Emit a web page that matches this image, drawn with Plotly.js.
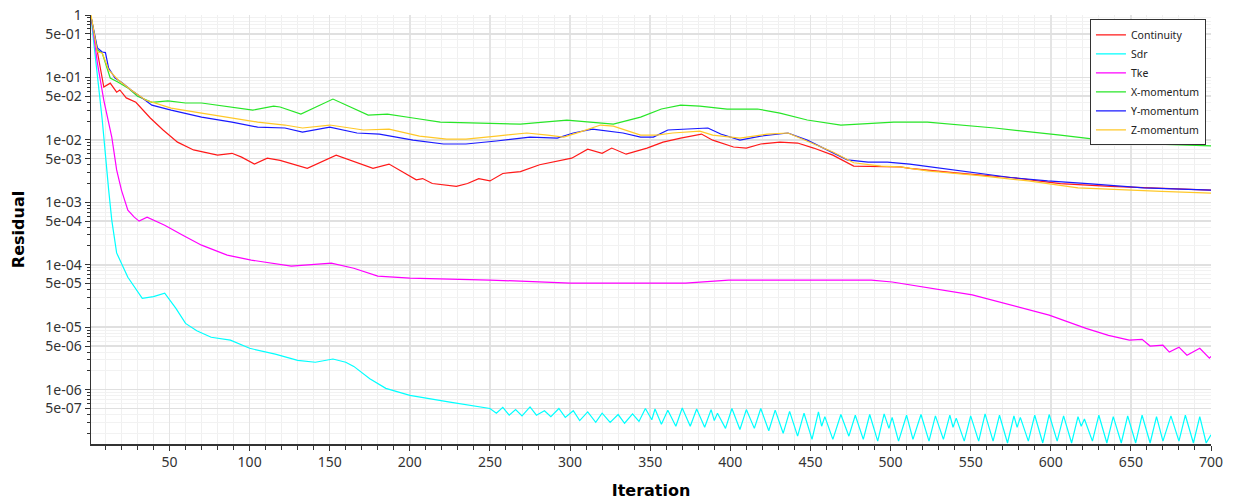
<!DOCTYPE html>
<html>
<head>
<meta charset="utf-8">
<script src="https://cdn.plot.ly/plotly-3.0.1.min.js"></script>
<style>html,body{margin:0;padding:0;background:#fff;}#chart{width:1233px;height:500px;}</style>
</head>
<body>
<div id="chart"></div>
<script>
// ---- data ----
const continuityIter = [1,9,13,17,19,23,29,38,46,55,65,80,89,95,103,111,119,136,154,171,177,187,204,208,214,229,236,243,250,258,269,281,296,301,311,320,326,335,348,358,369,382,389,402,410,419,431,442,452,464,477,486,506,512,544,575,606,637,669,700];
const continuityVal = [0.93,0.070,0.081,0.058,0.063,0.047,0.040,0.0224,0.0144,0.0092,0.0069,0.0057,0.0061,0.0053,0.0041,0.0051,0.0047,0.0035,0.0057,0.0040,0.0035,0.0041,0.0023,0.0024,0.0020,0.0018,0.0020,0.0024,0.0022,0.0029,0.0031,0.0040,0.0048,0.0051,0.0071,0.0061,0.0074,0.0059,0.0074,0.0092,0.0107,0.0124,0.0099,0.0077,0.0074,0.0086,0.0092,0.0089,0.0074,0.0057,0.0038,0.0038,0.0037,0.0035,0.0029,0.0025,0.0020,0.0018,0.0017,0.00157];

const sdrIter = [1,4,8,12,14,17,24,33,40,47,54,60,67,76,88,100,116,130,141,152,160,165,175,185,200,225,
  250,254,258,262,266,270,275,279,284,288,293,297,302,306,311,316,320,325,330,334,339,343,347,351,353,357,361,366,370,375,379,384,388,390,392,397,401,406,410,415,419,424,428,433,437,442,446,451,455,457,459,464,469,474,478,483,487,492,496,499,501,505,510,514,519,524,528,533,537,539,541,546,550,555,559,564,568,573,577,579,581,586,590,595,599,604,608,613,617,619,621,626,630,635,639,644,648,653,657,662,666,670,675,680,684,689,693,697,700];
const sdrVal = [0.93,0.19,0.021,0.0016,5.1e-4,1.55e-4,6.3e-5,2.9e-5,3.1e-5,3.5e-5,2.0e-5,1.15e-5,8.8e-6,6.9e-6,6.2e-6,4.6e-6,3.7e-6,2.95e-6,2.75e-6,3.1e-6,2.75e-6,2.36e-6,1.5e-6,1.05e-6,8.1e-7,6.3e-7,
  5.0e-7,4.2e-7,5.2e-7,3.9e-7,4.8e-7,3.8e-7,5.3e-7,3.9e-7,4.6e-7,3.7e-7,5.0e-7,3.6e-7,4.6e-7,3.2e-7,4.4e-7,3.0e-7,4.2e-7,3.0e-7,4.0e-7,2.9e-7,4.1e-7,3.1e-7,5.0e-7,3.3e-7,4.9e-7,2.8e-7,4.7e-7,2.6e-7,5.1e-7,2.6e-7,4.9e-7,2.5e-7,4.8e-7,3.2e-7,4.2e-7,2.4e-7,5.0e-7,2.3e-7,4.8e-7,2.4e-7,5.0e-7,2.2e-7,4.7e-7,2.0e-7,4.5e-7,1.8e-7,4.2e-7,1.6e-7,4.4e-7,2.6e-7,3.7e-7,1.6e-7,4.0e-7,1.8e-7,3.9e-7,1.6e-7,4.0e-7,1.5e-7,4.1e-7,2.4e-7,3.6e-7,1.5e-7,3.9e-7,1.6e-7,4.0e-7,1.5e-7,3.8e-7,1.6e-7,3.9e-7,2.5e-7,3.5e-7,1.5e-7,3.8e-7,1.5e-7,4.1e-7,1.5e-7,3.9e-7,1.4e-7,3.8e-7,2.5e-7,3.6e-7,1.5e-7,3.9e-7,1.4e-7,4.0e-7,1.5e-7,3.8e-7,1.4e-7,3.7e-7,2.6e-7,3.4e-7,1.5e-7,3.9e-7,1.4e-7,3.7e-7,1.4e-7,3.8e-7,1.4e-7,3.9e-7,1.4e-7,3.7e-7,1.5e-7,3.8e-7,1.5e-7,3.9e-7,1.4e-7,3.7e-7,1.4e-7,1.9e-7];

const tkeIter = [1,2,5,9,14,17,20,24,28,31,36,47,58,70,86,101,126,151,165,180,200,250,300,372,399,488,501,551,599,622,636,649,657,662,670,674,680,685,693,699,700];
const tkeVal = [0.9,0.64,0.17,0.043,0.011,0.0033,0.00157,7.5e-4,5.8e-4,5.0e-4,5.8e-4,4.3e-4,3.0e-4,2.06e-4,1.43e-4,1.19e-4,9.5e-5,1.06e-4,8.8e-5,6.6e-5,6.1e-5,5.7e-5,5.1e-5,5.1e-5,5.7e-5,5.7e-5,5.3e-5,3.3e-5,1.56e-5,9.6e-6,7.4e-6,6.2e-6,6.4e-6,5.0e-6,5.15e-6,4.0e-6,4.8e-6,3.56e-6,4.6e-6,3.2e-6,3.4e-6];

const xMomIter = [1,5,8,13,18,24,30,39,49,60,70,87,102,115,119,132,152,174,186,202,219,244,269,298,306,327,344,357,369,381,398,417,431,448,469,481,502,523,565,606,648,700];
const xMomVal = [0.93,0.275,0.246,0.098,0.084,0.068,0.050,0.040,0.042,0.039,0.039,0.0336,0.030,0.0348,0.0336,0.0259,0.0451,0.025,0.0259,0.0224,0.0193,0.0186,0.0179,0.0208,0.0200,0.0179,0.0232,0.0312,0.0361,0.0348,0.0312,0.0312,0.0269,0.0208,0.0173,0.0179,0.0193,0.0193,0.0155,0.0119,0.0089,0.0080];

const yMomIter = [1,5,8,10,12,16,20,26,33,39,51,70,89,105,122,133,150,167,181,202,221,235,254,275,292,302,314,333,344,352,361,375,386,394,406,419,436,448,461,473,486,498,512,544,575,598,623,658,700];
const yMomVal = [0.93,0.296,0.255,0.25,0.1415,0.098,0.084,0.063,0.047,0.036,0.030,0.0232,0.0193,0.0160,0.0155,0.0133,0.0160,0.0129,0.0124,0.0099,0.0086,0.0086,0.0096,0.0111,0.0107,0.0129,0.0149,0.0129,0.0111,0.0111,0.0144,0.0149,0.0155,0.0124,0.0099,0.0115,0.0129,0.0099,0.0069,0.0048,0.0044,0.0044,0.0041,0.0032,0.0025,0.0022,0.0020,0.0017,0.00157];

const zMomIter = [1,5,8,12,18,26,35,51,70,89,105,122,133,150,171,187,206,223,235,254,273,286,296,306,319,327,344,354,364,381,389,406,423,436,452,464,477,494,506,523,554,586,617,648,669,700];
const zMomVal = [1.0,0.255,0.246,0.1315,0.091,0.063,0.0434,0.0323,0.0269,0.0224,0.0193,0.0173,0.0155,0.0173,0.0144,0.0149,0.0115,0.0103,0.0103,0.0115,0.0129,0.0119,0.0111,0.0133,0.0173,0.0166,0.0119,0.0119,0.0129,0.0138,0.0119,0.0107,0.0124,0.0129,0.0086,0.0064,0.0043,0.0038,0.0037,0.0032,0.0027,0.0022,0.0017,0.0016,0.0015,0.0014];

const seriesNames = ['Continuity','Sdr','Tke','X-momentum','Y-momentum','Z-momentum'];
const seriesColors = ['rgb(255,25,25)','rgb(0,255,255)','rgb(255,0,255)','rgb(40,230,40)','rgb(25,25,255)','rgb(255,200,40)'];

const yTickVals = [1,0.5,0.1,0.05,0.01,0.005,0.001,5e-4,1e-4,5e-5,1e-5,5e-6,1e-6,5e-7];
const yTickText = ['1','5e-01','1e-01','5e-02','1e-02','5e-03','1e-03','5e-04','1e-04','5e-05','1e-05','5e-06','1e-06','5e-07'];

// ---- build ----
const xs = [continuityIter,sdrIter,tkeIter,xMomIter,yMomIter,zMomIter];
const ys = [continuityVal,sdrVal,tkeVal,xMomVal,yMomVal,zMomVal];
const traces = seriesNames.map((n,i)=>({
  x: xs[i], y: ys[i], name: n, type:'scatter', mode:'lines',
  line:{color:seriesColors[i], width:1.2}
}));

const minorY = [];
for (let e=0; e>=-7; e--) {
  [2,3,4,6,7,8,9].forEach(m=>{ const v = m*Math.pow(10,e-1); if (v<=1 && v>=1.35e-7) minorY.push(v); });
}

const tickFont = {family:'Noto Sans, Open Sans, DejaVu Sans, sans-serif', size:14, color:'#333'};

const layout = {
  width:1233, height:500,
  margin:{l:91, r:22, t:15, b:56},
  paper_bgcolor:'#fff', plot_bgcolor:'#fff',
  showlegend:true,
  legend:{x:0.9955, y:0.99, xanchor:'right', yanchor:'top',
    bgcolor:'#fff', bordercolor:'#333', borderwidth:1,
    itemwidth:30,
    font:{family:'Noto Sans, Open Sans, sans-serif', size:10.5, color:'#222'},
    tracegroupgap:0},
  xaxis:{
    range:[1,700], tick0:0, dtick:50,
    ticks:'outside', ticklen:5, tickcolor:'#333', tickwidth:1,
    showline:true, linecolor:'#333', linewidth:1.5,
    showgrid:true, gridcolor:'#e4e4e4', gridwidth:1.5,
    zeroline:false,
    tickfont:tickFont,
    minor:{dtick:10, tick0:0, ticks:'outside', ticklen:4, tickcolor:'#333', showgrid:true, gridcolor:'#f0f0f0', gridwidth:1},
    title:{text:'<b>Iteration</b>', font:{family:'DejaVu Sans, sans-serif', size:16, color:'#000'}, standoff:14}
  },
  yaxis:{
    type:'log', range:[-6.87,0],
    tickmode:'array', tickvals:yTickVals, ticktext:yTickText,
    ticks:'outside', ticklen:5, tickcolor:'#333', tickwidth:1,
    showline:true, linecolor:'#333', linewidth:1.5,
    showgrid:true, gridcolor:'#e0e0e0', gridwidth:1.5,
    zeroline:false,
    tickfont:tickFont,
    minor:{tickmode:'array', tickvals:minorY, ticks:'outside', ticklen:3, tickcolor:'#333', showgrid:true, gridcolor:'#f2f2f2', gridwidth:1},
    title:{text:'<b>Residual</b>', font:{family:'DejaVu Sans, sans-serif', size:16, color:'#000'}, standoff:16}
  }
};

Plotly.newPlot('chart', traces, layout, {displayModeBar:false, staticPlot:true});
</script>
</body>
</html>
